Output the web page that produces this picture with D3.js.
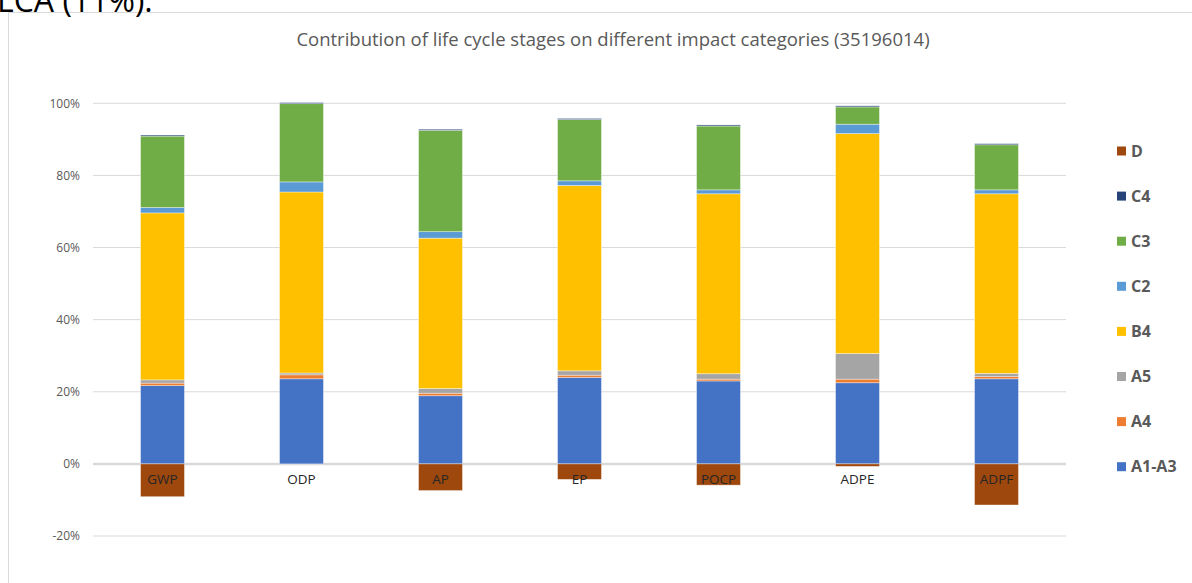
<!DOCTYPE html>
<html>
<head>
	<meta charset="utf-8">
	<title>Contribution of life cycle stages</title>
	<script src="https://d3js.org/d3.v7.min.js"></script>
	<style>
		body { margin: 0; background: #fff; }
		text { font-family: "Open Sans", "Liberation Sans", sans-serif; }
	</style>
</head>
<body>
	<div class="chart"></div>

	<script type="text/javascript">
		// impact categories
		const categories = ['GWP', 'ODP', 'AP', 'EP', 'POCP', 'ADPE', 'ADPF']

		// life cycle stages, bottom to top
		const stages = ['A1-A3', 'A4', 'A5', 'B4', 'C2', 'C3', 'C4', 'D']

		// contribution (%) per stage, one value per category
		const A1A3 = [21.7, 23.6, 18.9, 24.0, 23.0, 22.5, 23.6]
		const A4   = [0.7, 1.1, 0.7, 0.6, 0.5, 1.0, 0.6]
		const A5   = [0.9, 0.5, 1.3, 1.2, 1.5, 7.1, 0.9]
		const B4   = [46.3, 50.2, 41.7, 51.4, 49.9, 61.0, 49.8]
		const C2   = [1.5, 2.8, 1.8, 1.3, 1.1, 2.6, 1.1]
		const C3   = [19.8, 21.7, 28.1, 17.0, 17.7, 4.8, 12.5]
		const C4   = [0.3, 0.3, 0.3, 0.3, 0.3, 0.3, 0.3]
		const D    = [-9.1, 0, -7.4, -4.3, -5.9, -0.7, -11.4]

		const yTicks = [-20, 0, 20, 40, 60, 80, 100]

		const colors = {
			'A1-A3': '#4472c4',
			'A4': '#ed7d31',
			'A5': '#a5a5a5',
			'B4': '#ffc000',
			'C2': '#5b9bd5',
			'C3': '#70ad47',
			'C4': '#264478',
			'D': '#9e480e'
		}

		const width = 1192
		const height = 583
		const plot = { left: 93, right: 1066, top: 103.3, bottom: 536 }

		const svg = d3.select('.chart').append('svg')
			.attr('width', width)
			.attr('height', height)

		// chart frame
		svg.append('rect')
			.attr('x', 8.5).attr('y', 12.5)
			.attr('width', 1200).attr('height', 600)
			.attr('fill', '#fff')
			.attr('stroke', '#d9d9d9')

		// text of the page above the chart, its top cut off by the crop
		svg.append('text')
			.attr('x', -3).attr('y', 12)
			.attr('font-size', 32)
			.attr('fill', '#000')
			.text('LCA (11%).')

		// table for d3.stack
		const series = { 'A1-A3': A1A3, 'A4': A4, 'A5': A5, 'B4': B4, 'C2': C2, 'C3': C3, 'C4': C4, 'D': D }
		const table = categories.map((c, i) => {
			const row = { cat: c }
			stages.forEach(s => { row[s] = series[s][i] })
			return row
		})

		const stacked = d3.stack()
			.keys(stages)
			.offset(d3.stackOffsetDiverging)(table)

		const xScale = d3.scaleBand()
			.domain(categories)
			.range([plot.left, plot.right])
			.paddingInner(0.684)
			.paddingOuter(0.342)

		const yScale = d3.scaleLinear()
			.domain([-20, 100])
			.range([plot.bottom, plot.top])

		// gridlines
		svg.append('g')
			.selectAll('line')
			.data(yTicks)
			.join('line')
			.attr('x1', plot.left)
			.attr('x2', plot.right)
			.attr('y1', d => yScale(d))
			.attr('y2', d => yScale(d))
			.attr('stroke', '#d9d9d9')
			.attr('stroke-width', d => d === 0 ? 2.5 : 1)

		// y axis labels
		const yAxis = d3.axisLeft(yScale)
			.tickValues(yTicks)
			.tickFormat(d => d + '%')
			.tickSize(0)
			.tickPadding(13)

		svg.append('g')
			.attr('transform', `translate(${plot.left}, 0)`)
			.call(yAxis)
			.call(g => g.select('.domain').remove())
			.call(g => g.selectAll('text')
				.attr('font-size', 12)
				.attr('fill', '#595959')
				.style('font-family', '"Open Sans", sans-serif'))

		// bars
		svg.append('g')
			.selectAll('g')
			.data(stacked)
			.join('g')
			.attr('fill', d => colors[d.key])
			.selectAll('rect')
			.data(d => d)
			.join('rect')
			.attr('x', d => xScale(d.data.cat))
			.attr('width', xScale.bandwidth())
			.attr('y', d => yScale(Math.max(d[0], d[1])))
			.attr('height', d => Math.abs(yScale(d[0]) - yScale(d[1])))
			.attr('stroke', 'rgba(255,255,255,0.5)')
			.attr('stroke-width', 0.75)

		// category labels sit just under the zero line
		const xAxis = d3.axisBottom(xScale)
			.tickSize(0)
			.tickPadding(11)

		svg.append('g')
			.attr('transform', `translate(0, ${yScale(0)})`)
			.call(xAxis)
			.call(g => g.select('.domain').remove())
			.call(g => g.selectAll('text')
				.attr('font-size', 13.5)
				.attr('fill', '#262626')
				.style('font-family', '"Open Sans", sans-serif'))

		// title
		svg.append('text')
			.attr('x', 613)
			.attr('y', 46)
			.attr('text-anchor', 'middle')
			.attr('font-size', 18.5)
			.attr('fill', '#595959')
			.text('Contribution of life cycle stages on different impact categories (35196014)')

		// legend, D on top
		const legend = svg.append('g')
			.selectAll('g')
			.data(stages.slice().reverse())
			.join('g')
			.attr('transform', (d, i) => `translate(1117, ${151 + i * 45.1})`)

		legend.append('rect')
			.attr('x', 0).attr('y', -4.5)
			.attr('width', 9).attr('height', 9)
			.attr('fill', d => colors[d])

		legend.append('text')
			.attr('x', 14)
			.attr('y', 0)
			.attr('dy', '0.36em')
			.attr('font-size', 16)
			.attr('font-weight', 'bold')
			.attr('fill', '#595959')
			.text(d => d)
	</script>
</body>
</html>
